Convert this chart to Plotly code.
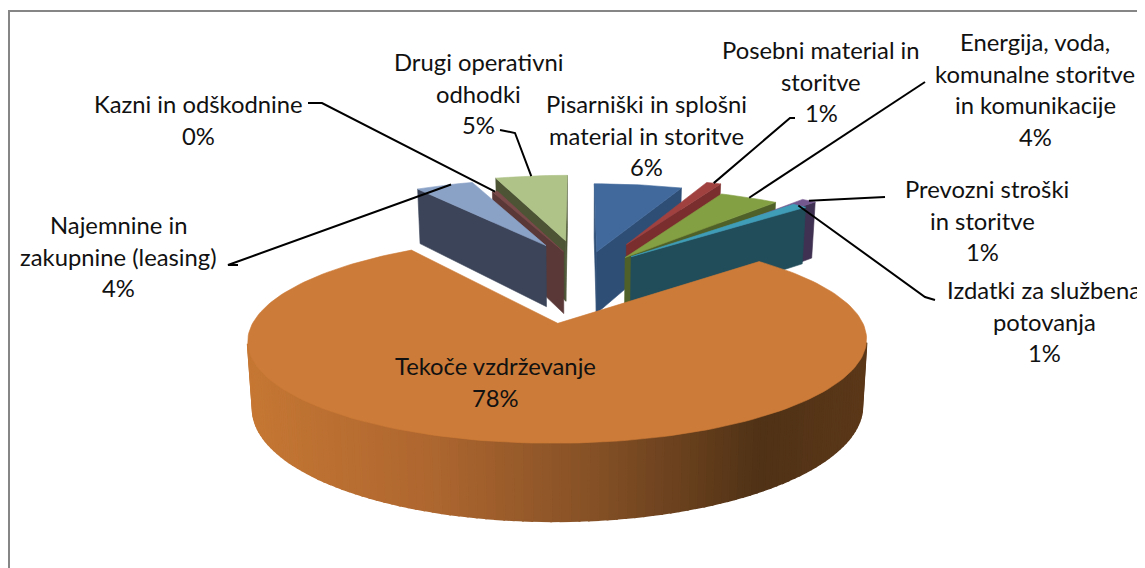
import math
import plotly.graph_objects as go

# ---- data ----
categories = ["Pisarniški in splošni material in storitve", "Posebni material in storitve",
              "Energija, voda, komunalne storitve in komunikacije", "Prevozni stroški in storitve",
              "Izdatki za službena potovanja", "Tekoče vzdrževanje",
              "Najemnine in zakupnine (leasing)", "Kazni in odškodnine", "Drugi operativni odhodki"]
values = [6, 1, 4, 1, 1, 78, 4, 0.4, 5]
label_lines = [["Pisarniški in splošni", "material in storitve"], ["Posebni material in", "storitve"],
               ["Energija, voda,", "komunalne storitve", "in komunikacije"], ["Prevozni stroški", "in storitve"],
               ["Izdatki za službena", "potovanja"], ["Tekoče vzdrževanje"],
               ["Najemnine in", "zakupnine (leasing)"], ["Kazni in odškodnine"], ["Drugi operativni", "odhodki"]]

# ---- styles / layout ----
pull = [.41, .54, .39, .50, .48, .41, .54, .425, .555]
pull_ku = [1.09, .92, .9, .92, .62, 1.12, .44, .29, .38]
radius = [1, 1, 1, 1, 1, 1, 1, .92, 1]
wall_h = [70, 70, 70, 70, 70, 65, 70, 70, 70]
top_col = ["#41699C", "#A04140", "#83A043", "#73578F", "#3F9DB8", "#CC7B38", "#8BA2C7", "#7A4A4A", "#AFC388"]
wall_col = ["#2E4E76", "#7A2F2E", "#4F6128", "#3F3151", "#214D5A", "#C47733", "#3B4459", "#5A3838", "#4C5435"]
draw_order = [8, 7, 6, 0, 1, 2, 3, 4, 5]
CX, RX, A, K = 579, 305, 100, .165
CY = 323
CU, CV = -.018, .404
FONT = "Lato"
FS = 23.8
label_pos = [(646, 104), (821, 50), (1035, 42), (982, 189), (1044, 290), (495, 366), (118, 225), (198, 104), (478, 62)]
leaders = {1: ((795, 118), (790, 118), .5), 2: ((925, 82), (925, 82), .5), 3: ((885, 197), (885, 197), .5),
           4: ((935, 300), (925, 297), .4), 6: ((238, 265), (228, 265), .62), 7: ((308, 103), (322, 103), .5),
           8: ((500, 130), (515, 133), .5)}

total = sum(values)


def proj(u, v, h=0):
    s = 1 / (1 + K * v)
    x = CX + RX * u * s
    y = CY - A * v * s
    if h:
        x = CX + (x - CX) * .985
        y += h * s
    return x, y


angles, a = [], 0.0
for val in values:
    b = a + val / total * 360
    angles.append((a, b))
    a = b


def apex_world(i):
    m = math.radians(sum(angles[i]) / 2)
    return CU + pull[i] * pull_ku[i] * math.sin(m), CV + pull[i] * math.cos(m)


def rim(i, t):
    deg = angles[i][0] + t * (angles[i][1] - angles[i][0])
    r = math.radians(deg)
    u0, v0 = apex_world(i)
    return u0 + radius[i] * math.sin(r), v0 + radius[i] * math.cos(r)


def lerp(c1, c2, t):
    return tuple(c1[j] + (c2[j] - c1[j]) * t for j in range(3))


def orange_at(x):
    stops = [(245, (198, 120, 52)), (420, (176, 104, 48)), (600, (132, 80, 38)), (760, (80, 50, 22)), (870, (92, 56, 25))]
    for (x0, c0), (x1, c1) in zip(stops, stops[1:]):
        if x <= x1:
            return "rgb(%d,%d,%d)" % lerp(c0, c1, max(0, (x - x0) / (x1 - x0)))
    return "rgb(92,56,25)"


fig = go.Figure()


def poly(pts, color, name, lw=.6):
    xs = [p[0] for p in pts] + [pts[0][0]]
    ys = [p[1] for p in pts] + [pts[0][1]]
    fig.add_trace(go.Scatter(x=xs, y=ys, mode="lines", fill="toself", fillcolor=color,
                             line=dict(color=color, width=lw), showlegend=False, hoverinfo="text", text=name))


def area(p):
    return sum(p[j][0] * p[(j + 1) % len(p)][1] - p[(j + 1) % len(p)][0] * p[j][1] for j in range(len(p))) / 2


for i in draw_order:
    name = categories[i]
    ap = apex_world(i)
    h = wall_h[i]
    n = max(2, int((angles[i][1] - angles[i][0]) / 1.5))
    arc = [rim(i, j / n) for j in range(n + 1)]
    # flat cut faces
    for edge, sign in ((arc[0], 1), (arc[-1], -1)):
        q = [proj(*ap), proj(*edge), proj(*edge, h), proj(*ap, h)]
        if area(q) * sign < 0:
            poly(q, wall_col[i], name)
    # outer rounded wall
    for j in range(n):
        q = [proj(*arc[j]), proj(*arc[j + 1]), proj(*arc[j + 1], h), proj(*arc[j], h)]
        if area(q) < 0:
            if i == 5:
                col = orange_at((q[0][0] + q[1][0]) / 2)
                poly(q, col, name, lw=2)
            else:
                poly(q, wall_col[i], name)
    poly([proj(*ap)] + [proj(*p) for p in arc], top_col[i], name)

# leader lines
for i, (p0, p1, t) in leaders.items():
    end = proj(*rim(i, t))
    fig.add_trace(go.Scatter(x=[p0[0], p1[0], end[0]], y=[p0[1], p1[1], end[1]], mode="lines",
                             line=dict(color="black", width=2), showlegend=False, hoverinfo="skip"))

# labels
anns = []
for i, lines in enumerate(label_lines):
    cx, y0 = label_pos[i]
    pct = "%d%%" % round(100 * values[i] / total)
    for j, txt in enumerate(lines + [pct]):
        x = cx + (5 if i == 3 and j == 0 else 0)
        anns.append(dict(x=x, y=y0 + j * 31.5, text=txt, showarrow=False, xanchor="center", yanchor="middle",
                         font=dict(family=FONT, size=FS, color="#111111")))

# the page has an 8 px body margin, so the axes start at pixel 8
fig.update_layout(
    width=1137, height=560, margin=dict(l=0, r=0, t=0, b=0), autosize=False,
    paper_bgcolor="white", plot_bgcolor="white", annotations=anns,
    xaxis=dict(range=[8, 1145], visible=False, fixedrange=True),
    yaxis=dict(range=[568, 8], visible=False, fixedrange=True),
    shapes=[dict(type="rect", xref="x", yref="y", x0=9, y0=11, x1=1160, y1=590,
                 line=dict(color="#868686", width=2), layer="below")],
)
fig.write_html("out.html", config=dict(displayModeBar=False))
